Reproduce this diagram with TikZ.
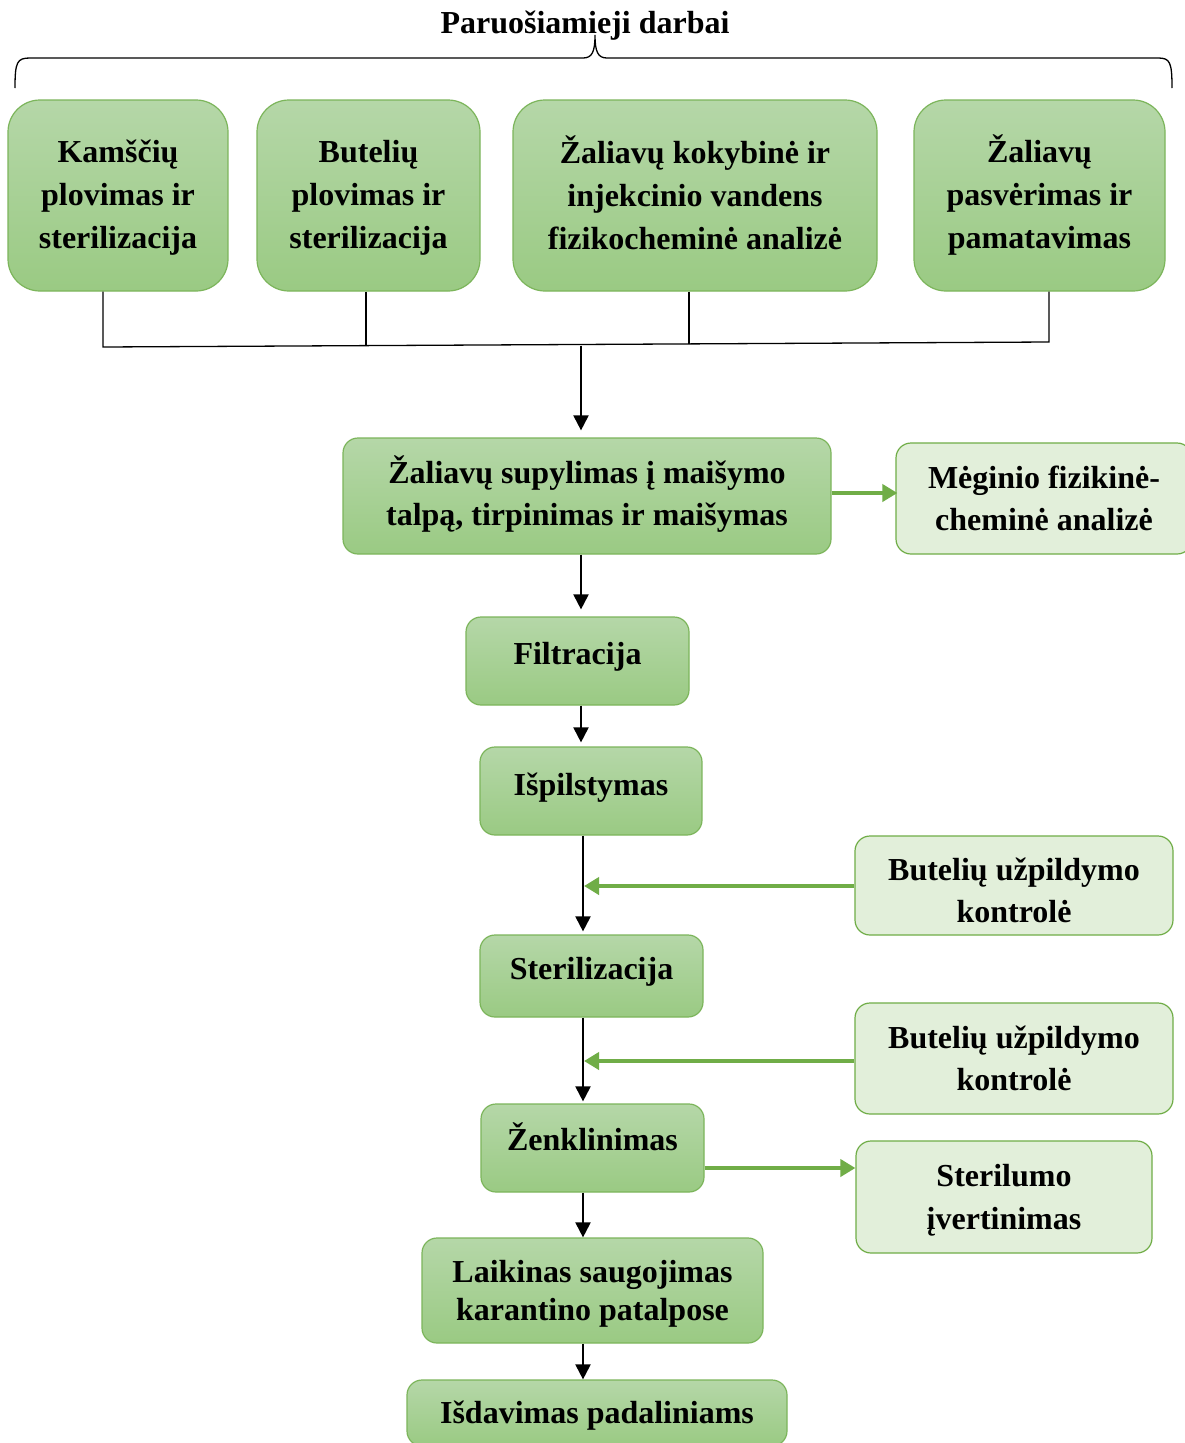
\documentclass[tikz,border=0pt]{standalone}
\usepackage{fontspec}
\setmainfont{Liberation Serif}
\usetikzlibrary{arrows.meta}
\definecolor{gtop}{HTML}{B5D7A8}
\definecolor{gbot}{HTML}{9ACA83}
\definecolor{gedge}{HTML}{7CB55B}
\definecolor{glight}{HTML}{E2EFDA}
\definecolor{garrow}{HTML}{70AD47}
\begin{document}
\begin{tikzpicture}[x=1pt,y=-1pt,
 font=\fontsize{32}{43}\selectfont\bfseries,
 dark/.style={draw=gedge, line width=1.2pt, top color=gtop, bottom color=gbot, rounded corners=15pt, align=center, inner sep=0pt},
 bigdark/.style={dark, rounded corners=32pt},
 light/.style={draw=garrow, line width=1.2pt, fill=glight, rounded corners=15pt, align=center, inner sep=0pt},
 blk/.style={line width=2pt, shorten >=3pt, -{Triangle[length=15pt,width=15pt]}},
 grn/.style={draw=garrow, line width=4pt, -{Triangle[length=15pt,width=17pt]}},
 thinline/.style={line width=1.3pt},
 tdep/.style={text depth=#1}]
\fill[white] (0,0) rectangle (1185,1443);
\useasboundingbox (0,0) rectangle (1185,1443);

% title and brace
\node (title) at (585,26) {Paruošiamieji darbai};
\draw[thinline] (15,88) .. controls (15,62) and (17,58) .. (30,58) -- (583,58)
  .. controls (592,58) and (595,52) .. (595,35)
  .. controls (595,52) and (598,58) .. (607,58) -- (1158,58)
  .. controls (1170,58) and (1172,62) .. (1172,88);

% top row
\node[bigdark, minimum width=220pt, minimum height=191pt, tdep=3pt] (A) at (118,195.5) {Kamščių\\plovimas ir\\sterilizacija};
\node[bigdark, minimum width=223pt, minimum height=191pt, tdep=3pt] (B) at (368.5,195.5) {Butelių\\plovimas ir\\sterilizacija};
\node[bigdark, minimum width=364pt, minimum height=191pt, tdep=6pt] (C) at (695,195.5) {Žaliavų kokybinė ir\\injekcinio vandens\\fizikocheminė analizė};
\node[bigdark, minimum width=251pt, minimum height=191pt] (D) at (1039.5,195.5) {Žaliavų\\pasvėrimas ir\\pamatavimas};

% main column
\node[dark, minimum width=488pt, minimum height=116pt, font=\fontsize{32}{42}\selectfont\bfseries, tdep=11pt] (E) at (587,496) {Žaliavų supylimas į maišymo\\talpą, tirpinimas ir maišymas};
\node[light, minimum width=296pt, minimum height=111pt, font=\fontsize{32}{42}\selectfont\bfseries] (F) at (1044,498.5) {Mėginio fizikinė-\\cheminė analizė};
\node[dark, minimum width=223pt, minimum height=88pt, tdep=15pt] (Filt) at (577.5,661) {Filtracija};
\node[dark, minimum width=222pt, minimum height=88pt, tdep=13pt] (Isp) at (591,791) {Išpilstymas};
\node[light, minimum width=318pt, minimum height=99pt, font=\fontsize{32}{42}\selectfont\bfseries, text height=74pt] (C1) at (1014,885.5) {Butelių užpildymo\\kontrolė};
\node[dark, minimum width=223pt, minimum height=82pt, tdep=15pt] (Ster) at (591.5,976) {Sterilizacija};
\node[light, minimum width=318pt, minimum height=111pt, font=\fontsize{32}{42}\selectfont\bfseries] (C2) at (1014,1058.5) {Butelių užpildymo\\kontrolė};
\node[dark, minimum width=223pt, minimum height=88pt, tdep=22pt] (Zen) at (592.5,1148) {Ženklinimas};
\node[light, minimum width=296pt, minimum height=112pt, font=\fontsize{32}{43}\selectfont\bfseries, tdep=-2pt] (SterU) at (1004,1197) {Sterilumo\\įvertinimas};
\node[dark, minimum width=341pt, minimum height=105pt, font=\fontsize{32}{38}\selectfont\bfseries, tdep=-9pt] (Laik) at (592.5,1290.5) {Laikinas saugojimas\\karantino patalpose};
\node[dark, minimum width=380pt, minimum height=66pt, tdep=1pt] (Isd) at (597,1413) {Išdavimas padaliniams};

% collector lines
\coordinate (jl) at (103,347);
\coordinate (jr) at (1049,342);
\coordinate (jb) at (366,346);
\coordinate (jc) at (689,343.5);
\coordinate (jm) at (581,345.5);
\draw[thinline] (103,0 |- A.south) -- (jl) -- (jr) -- (1049,0 |- D.south);
\draw[thinline] (366,0 |- B.south) -- (jb);
\draw[thinline] (689,0 |- C.south) -- (jc);
\draw[blk, shorten >=7pt] (jm) -- (581,0 |- E.north);

% black flow arrows
\draw[blk, shorten >=7pt] (581,0 |- E.south) -- (581,0 |- Filt.north);
\draw[blk, shorten >=4pt] (581,0 |- Filt.south) -- (581,0 |- Isp.north);
\draw[blk] (583,0 |- Isp.south) -- (583,0 |- Ster.north);
\draw[blk, shorten >=2pt] (583,0 |- Ster.south) -- (583,0 |- Zen.north);
\draw[blk, shorten >=0pt] (583,0 |- Zen.south) -- (583,0 |- Laik.north);
\draw[blk, shorten >=0pt] (583,0 |- Laik.south) -- (583,0 |- Isd.north);

% green arrows
\coordinate (g1) at (584,886);
\coordinate (g2) at (584,1061);
\draw[grn] (E.east |- 0,493) -- ([xshift=2pt]F.west |- 0,493);
\draw[grn] (C1.west |- g1) -- (g1);
\draw[grn] (C2.west |- g2) -- (g2);
\draw[grn] (Zen.east |- 0,1168) -- (SterU.west |- 0,1168);
\end{tikzpicture}
\end{document}
